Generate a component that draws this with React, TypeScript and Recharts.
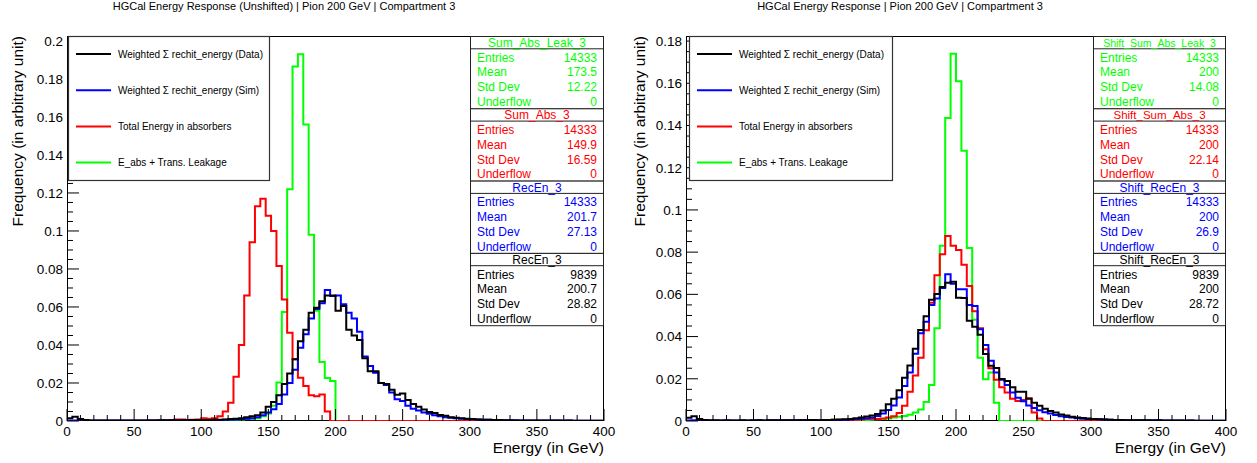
import React from "react";
import { ComposedChart, Line, XAxis, YAxis } from "recharts";

// 100 bins of 4 GeV over 0-400 GeV, normalised to unit area
const BIN_WIDTH = 4;

// --- unshifted pad ---
const recEnData = [
  0.0015, 0.0022, 0.0010, 0.0005, 0.0003, 0.0003, 0.0002, 0.0003, 0.0002, 0.0002,
  0.0003, 0.0002, 0.0003, 0.0003, 0.0002, 0.0003, 0.0003, 0.0004, 0.0003, 0.0004,
  0.0003, 0.0004, 0.0004, 0.0005, 0.0004, 0.0005, 0.0005, 0.0006, 0.0006, 0.0008,
  0.0010, 0.0012, 0.0015, 0.0020, 0.0025, 0.0030, 0.0045, 0.0075, 0.0100, 0.0135,
  0.0195, 0.0250, 0.0325, 0.0420, 0.0480, 0.0570, 0.0596, 0.0630, 0.0660, 0.0660,
  0.0580, 0.0605, 0.0480, 0.0450, 0.0426, 0.0330, 0.0262, 0.0262, 0.0200, 0.0195,
  0.0165, 0.0138, 0.0145, 0.0110, 0.0090, 0.0075, 0.0060, 0.0048, 0.0042, 0.0032,
  0.0027, 0.0020, 0.0017, 0.0014, 0.0012, 0.0010, 0.0008, 0.0007, 0.0006, 0.0005,
  0.0005, 0.0004, 0.0004, 0.0003, 0.0003, 0.0003, 0.0002, 0.0003, 0.0002, 0.0002,
  0.0002, 0.0002, 0.0001, 0.0002, 0.0001, 0.0001, 0.0001, 0.0001, 0.0001, 0.0001,
];

const recEnSim = [
  0.0002, 0.0003, 0.0002, 0.0002, 0.0002, 0.0002, 0.0002, 0.0002, 0.0002, 0.0002,
  0.0002, 0.0002, 0.0002, 0.0003, 0.0002, 0.0003, 0.0003, 0.0003, 0.0003, 0.0003,
  0.0003, 0.0003, 0.0004, 0.0003, 0.0004, 0.0004, 0.0004, 0.0005, 0.0005, 0.0006,
  0.0007, 0.0008, 0.0010, 0.0012, 0.0015, 0.0020, 0.0030, 0.0045, 0.0062, 0.0090,
  0.0140, 0.0200, 0.0270, 0.0386, 0.0456, 0.0540, 0.0590, 0.0620, 0.0690, 0.0658,
  0.0660, 0.0615, 0.0570, 0.0540, 0.0470, 0.0340, 0.0290, 0.0254, 0.0200, 0.0190,
  0.0150, 0.0114, 0.0105, 0.0080, 0.0065, 0.0055, 0.0045, 0.0038, 0.0030, 0.0025,
  0.0020, 0.0017, 0.0014, 0.0012, 0.0010, 0.0009, 0.0008, 0.0007, 0.0006, 0.0005,
  0.0005, 0.0004, 0.0004, 0.0004, 0.0003, 0.0003, 0.0003, 0.0003, 0.0002, 0.0002,
  0.0002, 0.0002, 0.0002, 0.0002, 0.0001, 0.0001, 0.0001, 0.0001, 0.0001, 0.0001,
];

const sumAbs = [
  0, 0, 0, 0, 0, 0, 0, 0, 0, 0,
  0, 0, 0, 0, 0, 0.0002, 0.0002, 0.0003, 0.0005, 0.0004,
  0.0008, 0.0008, 0.0005, 0.0006, 0.0008, 0.0015, 0.0012, 0.0015, 0.0025, 0.0050,
  0.0096, 0.0233, 0.0400, 0.0660, 0.0940, 0.1130, 0.1170, 0.1080, 0.1000, 0.0816,
  0.0640, 0.0465, 0.0325, 0.0228, 0.0184, 0.0135, 0.0130, 0.0140, 0.0050, 0,
  0, 0, 0, 0, 0, 0, 0, 0, 0, 0,
  0, 0, 0, 0, 0, 0, 0, 0, 0, 0,
  0, 0, 0, 0, 0, 0, 0, 0, 0, 0,
  0, 0, 0, 0, 0, 0, 0, 0, 0, 0,
  0, 0, 0, 0, 0, 0, 0, 0, 0, 0,
];

const sumAbsLeak = [
  0, 0, 0, 0, 0, 0, 0, 0, 0, 0,
  0, 0, 0, 0, 0, 0, 0, 0, 0, 0,
  0, 0, 0, 0, 0, 0.0002, 0.0002, 0.0003, 0.0003, 0.0004,
  0.0005, 0.0006, 0.0008, 0.0010, 0.0012, 0.0015, 0.0025, 0.0040, 0.0080, 0.0202,
  0.0574, 0.1220, 0.1865, 0.1930, 0.1560, 0.0980, 0.0580, 0.0310, 0.0226, 0.0210,
  0, 0, 0, 0, 0, 0, 0, 0, 0, 0,
  0, 0, 0, 0, 0, 0, 0, 0, 0, 0,
  0, 0, 0, 0, 0, 0, 0, 0, 0, 0,
  0, 0, 0, 0, 0, 0, 0, 0, 0, 0,
  0, 0, 0, 0, 0, 0, 0, 0, 0, 0,
];

// --- pad shifted to a 200 GeV mean ---
const shiftRecEnData = [
  0.0015, 0.0022, 0.0010, 0.0005, 0.0003, 0.0003, 0.0002, 0.0003, 0.0002, 0.0002,
  0.0003, 0.0002, 0.0003, 0.0003, 0.0002, 0.0003, 0.0003, 0.0004, 0.0003, 0.0004,
  0.0003, 0.0004, 0.0004, 0.0005, 0.0004, 0.0005, 0.0005, 0.0006, 0.0007, 0.0008,
  0.0010, 0.0013, 0.0016, 0.0021, 0.0026, 0.0033, 0.0050, 0.0079, 0.0106, 0.0146,
  0.0205, 0.0263, 0.0342, 0.0431, 0.0496, 0.0575, 0.0602, 0.0635, 0.0655, 0.0660,
  0.0584, 0.0583, 0.0475, 0.0446, 0.0409, 0.0318, 0.0262, 0.0251, 0.0199, 0.0190,
  0.0160, 0.0139, 0.0139, 0.0106, 0.0087, 0.0072, 0.0058, 0.0047, 0.0040, 0.0031,
  0.0026, 0.0020, 0.0016, 0.0014, 0.0012, 0.0010, 0.0008, 0.0007, 0.0006, 0.0005,
  0.0005, 0.0004, 0.0004, 0.0003, 0.0003, 0.0003, 0.0002, 0.0003, 0.0002, 0.0002,
  0.0002, 0.0002, 0.0001, 0.0002, 0.0001, 0.0001, 0.0001, 0.0001, 0.0001, 0.0001,
];

const shiftRecEnSim = [
  0.0002, 0.0003, 0.0002, 0.0002, 0.0002, 0.0002, 0.0002, 0.0002, 0.0002, 0.0002,
  0.0002, 0.0002, 0.0002, 0.0003, 0.0002, 0.0003, 0.0003, 0.0003, 0.0003, 0.0003,
  0.0003, 0.0003, 0.0004, 0.0003, 0.0004, 0.0004, 0.0004, 0.0005, 0.0005, 0.0006,
  0.0007, 0.0009, 0.0011, 0.0013, 0.0017, 0.0024, 0.0036, 0.0052, 0.0074, 0.0111,
  0.0166, 0.0230, 0.0319, 0.0416, 0.0470, 0.0550, 0.0580, 0.0630, 0.0695, 0.0650,
  0.0624, 0.0624, 0.0550, 0.0545, 0.0435, 0.0360, 0.0285, 0.0230, 0.0196, 0.0170,
  0.0135, 0.0110, 0.0094, 0.0074, 0.0061, 0.0051, 0.0042, 0.0035, 0.0028, 0.0023,
  0.0019, 0.0016, 0.0013, 0.0011, 0.0010, 0.0009, 0.0008, 0.0007, 0.0006, 0.0005,
  0.0005, 0.0004, 0.0004, 0.0004, 0.0003, 0.0003, 0.0003, 0.0003, 0.0002, 0.0002,
  0.0002, 0.0002, 0.0002, 0.0002, 0.0001, 0.0001, 0.0001, 0.0001, 0.0001, 0.0001,
];

const shiftSumAbs = [
  0, 0, 0, 0, 0, 0, 0, 0, 0, 0,
  0, 0, 0, 0, 0, 0, 0, 0, 0, 0,
  0.0002, 0.0002, 0.0003, 0.0003, 0.0003, 0.0004, 0.0005, 0.0006, 0.0006, 0.0005,
  0.0005, 0.0006, 0.0007, 0.0010, 0.0011, 0.0010, 0.0012, 0.0016, 0.0022, 0.0038,
  0.0072, 0.0139, 0.0215, 0.0300, 0.0430, 0.0560, 0.0690, 0.0790, 0.0877, 0.0830,
  0.0810, 0.0740, 0.0640, 0.0520, 0.0440, 0.0340, 0.0250, 0.0195, 0.0160, 0.0135,
  0.0105, 0.0095, 0.0100, 0.0108, 0.0040, 0.0012, 0, 0, 0, 0,
  0, 0, 0, 0, 0, 0, 0, 0, 0, 0,
  0, 0, 0, 0, 0, 0, 0, 0, 0, 0,
  0, 0, 0, 0, 0, 0, 0, 0, 0, 0,
];

const shiftSumAbsLeak = [
  0, 0, 0, 0, 0, 0, 0, 0, 0, 0,
  0, 0, 0, 0, 0, 0, 0, 0, 0, 0,
  0, 0, 0, 0, 0, 0, 0, 0, 0, 0,
  0.0003, 0.0003, 0.0004, 0.0005, 0.0006, 0.0008, 0.0010, 0.0012, 0.0016, 0.0020,
  0.0024, 0.0030, 0.0040, 0.0055, 0.0090, 0.0170, 0.0440, 0.0830, 0.1435, 0.1740,
  0.1610, 0.1280, 0.0820, 0.0480, 0.0300, 0.0198, 0.0230, 0.0087, 0, 0,
  0, 0, 0, 0, 0, 0, 0, 0, 0, 0,
  0, 0, 0, 0, 0, 0, 0, 0, 0, 0,
  0, 0, 0, 0, 0, 0, 0, 0, 0, 0,
  0, 0, 0, 0, 0, 0, 0, 0, 0, 0,
];

const xMajorTicks = [0, 50, 100, 150, 200, 250, 300, 350, 400];
const leftYMajor = [0, 0.02, 0.04, 0.06, 0.08, 0.1, 0.12, 0.14, 0.16, 0.18, 0.2];
const rightYMajor = [0, 0.02, 0.04, 0.06, 0.08, 0.1, 0.12, 0.14, 0.16, 0.18];

const legendLabels = [
  "Weighted \u03A3 rechit_energy (Data)",
  "Weighted \u03A3 rechit_energy (Sim)",
  "Total Energy in absorbers",
  "E_abs + Trans. Leakage",
];
const legendColors = ["#000000", "#0000ff", "#ff0000", "#00ff00"];

const statRows = ["Entries", "Mean", "Std Dev", "Underflow"];

type StatBox = { name: string; color: string; values: string[]; size?: number };

const leftStats: StatBox[] = [
  { name: "Sum_Abs_Leak_3", color: "#00ff00", values: ["14333", "173.5", "12.22", "0"] },
  { name: "Sum_Abs_3", color: "#ff0000", values: ["14333", "149.9", "16.59", "0"] },
  { name: "RecEn_3", color: "#0000ff", values: ["14333", "201.7", "27.13", "0"] },
  { name: "RecEn_3", color: "#000000", values: ["9839", "200.7", "28.82", "0"] },
];

const rightStats: StatBox[] = [
  { name: "Shift_Sum_Abs_Leak_3", color: "#00ff00", values: ["14333", "200", "14.08", "0"], size: 10.5 },
  { name: "Shift_Sum_Abs_3", color: "#ff0000", values: ["14333", "200", "22.14", "0"], size: 11.5 },
  { name: "Shift_RecEn_3", color: "#0000ff", values: ["14333", "200", "26.9", "0"] },
  { name: "Shift_RecEn_3", color: "#000000", values: ["9839", "200", "28.72", "0"] },
];

const FONT = '"Liberation Sans", Arial, Helvetica, sans-serif';
const PAGE_W = 1257;
const PAGE_H = 463;
const PLOT_TOP = 36;
const PLOT_BOTTOM = 421;
const Y_AXIS_W = 40;
const X_AXIS_H = 30;

type Row = { e: number; data: number; sim: number; abs: number; leak: number };

function buildRows(data: number[], sim: number[], abs: number[], leak: number[]): Row[] {
  const rows = data.map((_, i) => ({ e: i * BIN_WIDTH, data: data[i], sim: sim[i], abs: abs[i], leak: leak[i] }));
  // closing edge so the last bin is drawn up to 400
  const n = data.length - 1;
  rows.push({ e: data.length * BIN_WIDTH, data: data[n], sim: sim[n], abs: abs[n], leak: leak[n] });
  return rows;
}

function withMinors(majors: number[], sub: number, max: number) {
  const step = majors[1] - majors[0];
  const out: number[] = [];
  majors.forEach((m) => {
    for (let j = 0; j < sub; j++) {
      const v = +(m + (j * step) / sub).toFixed(4);
      if (v <= max) out.push(v);
    }
  });
  return out;
}

const xAllTicks = withMinors(xMajorTicks, 5, 400);

// ticks point into the frame, ROOT style
function XTick(props: any) {
  const { x, y, payload } = props;
  const v = payload.value as number;
  const major = v % 50 === 0;
  return (
    <g>
      <line x1={x} x2={x} y1={y} y2={y - (major ? 12 : 6)} stroke="#000" strokeWidth={1} />
      {major && (
        <text x={x} y={y + 15} textAnchor="middle" fontSize={13.5} fontFamily={FONT} fill="#000">
          {v}
        </text>
      )}
    </g>
  );
}

function YTick(props: any) {
  const { x, y, payload } = props;
  const v = payload.value as number;
  const major = Math.abs(v / 0.02 - Math.round(v / 0.02)) < 1e-6;
  return (
    <g>
      <line x1={x} x2={x + (major ? 12 : 6)} y1={y} y2={y} stroke="#000" strokeWidth={1} />
      {major && (
        <text x={x - 4} y={y + 4.8} textAnchor="end" fontSize={13.5} fontFamily={FONT} fill="#000">
          {String(+v.toFixed(2))}
        </text>
      )}
    </g>
  );
}

type PadProps = {
  padLeft: number;
  padWidth: number;
  plotLeft: number;
  plotRight: number;
  yMax: number;
  yMajor: number[];
  rows: Row[];
};

function Pad({ padLeft, padWidth, plotLeft, plotRight, yMax, yMajor, rows }: PadProps) {
  const yTicks = withMinors(yMajor, 4, yMax);
  return (
    <div style={{ position: "absolute", left: padLeft, top: 0 }}>
      <ComposedChart
        width={padWidth}
        height={PAGE_H}
        data={rows}
        margin={{
          top: PLOT_TOP,
          bottom: PAGE_H - PLOT_BOTTOM - X_AXIS_H,
          left: plotLeft - padLeft - Y_AXIS_W,
          right: padLeft + padWidth - plotRight,
        }}
      >
        <XAxis
          dataKey="e"
          type="number"
          domain={[0, 400]}
          ticks={xAllTicks}
          interval={0}
          height={X_AXIS_H}
          tickSize={0}
          tickMargin={0}
          tickLine={false}
          axisLine={false}
          tick={(p: any) => <XTick {...p} />}
        />
        <YAxis
          type="number"
          domain={[0, yMax]}
          ticks={yTicks}
          interval={0}
          width={Y_AXIS_W}
          tickSize={0}
          tickMargin={0}
          tickLine={false}
          axisLine={false}
          allowDataOverflow
          tick={(p: any) => <YTick {...p} />}
        />
        <Line type="stepAfter" dataKey="leak" stroke="#00ff00" strokeWidth={2} dot={false} isAnimationActive={false} />
        <Line type="stepAfter" dataKey="abs" stroke="#ff0000" strokeWidth={2} dot={false} isAnimationActive={false} />
        <Line type="stepAfter" dataKey="sim" stroke="#0000ff" strokeWidth={2} dot={false} isAnimationActive={false} />
        <Line type="stepAfter" dataKey="data" stroke="#000000" strokeWidth={2} dot={false} isAnimationActive={false} />
      </ComposedChart>
    </div>
  );
}

function Legend({ left, width }: { left: number; width: number }) {
  return (
    <g fontFamily={FONT}>
      <rect x={left + 0.5} y={PLOT_TOP + 0.5} width={width} height={144} fill="#fff" stroke="#333" strokeWidth={1.2} />
      {legendLabels.map((label, i) => {
        const y = 54 + i * 36.2;
        return (
          <g key={label}>
            <line x1={left + 8} x2={left + 43} y1={y} y2={y} stroke={legendColors[i]} strokeWidth={2} />
            <text x={left + 50} y={y + 3.6} fontSize={10} fill="#000">
              {label}
            </text>
          </g>
        );
      })}
    </g>
  );
}

function Stats({ left, right, boxes }: { left: number; right: number; boxes: StatBox[] }) {
  const w = right - left;
  const h = 72.3;
  return (
    <g fontFamily={FONT}>
      {boxes.map((b, k) => {
        const top = PLOT_TOP + k * h;
        return (
          <g key={k}>
            <rect x={left + 0.5} y={top + 0.5} width={w - 1} height={h} fill="#fff" stroke="#222" strokeWidth={1} />
            <line x1={left} x2={right} y1={top + 12.8} y2={top + 12.8} stroke="#222" strokeWidth={1} />
            <text x={left + w / 2} y={top + 11} textAnchor="middle" fontSize={b.size ?? 12} fill={b.color}>
              {b.name}
            </text>
            {statRows.map((r, j) => {
              const base = top + 25.6 + j * 14.8;
              return (
                <g key={r}>
                  <text x={left + 7} y={base} fontSize={12} fill={b.color}>
                    {r}
                  </text>
                  <text x={right - 7} y={base} textAnchor="end" fontSize={12} fill={b.color}>
                    {b.values[j]}
                  </text>
                </g>
              );
            })}
          </g>
        );
      })}
    </g>
  );
}

export default function App() {
  const leftRows = buildRows(recEnData, recEnSim, sumAbs, sumAbsLeak);
  const rightRows = buildRows(shiftRecEnData, shiftRecEnSim, shiftSumAbs, shiftSumAbsLeak);

  const L = { plotLeft: 67, plotRight: 604 };
  const R = { plotLeft: 686, plotRight: 1226 };

  return (
    <div style={{ position: "absolute", left: 0, top: 0, width: PAGE_W, height: PAGE_H, background: "#fff", overflow: "hidden" }}>
      {/* frames under the histograms */}
      <svg width={PAGE_W} height={PAGE_H} style={{ position: "absolute", left: 0, top: 0 }}>
        {[L, R].map((p, i) => (
          <rect
            key={i}
            x={p.plotLeft + 0.5}
            y={PLOT_TOP + 0.5}
            width={p.plotRight - p.plotLeft - 1}
            height={PLOT_BOTTOM - PLOT_TOP - 1}
            fill="none"
            stroke="#000"
            strokeWidth={1}
          />
        ))}
      </svg>

      <Pad padLeft={0} padWidth={628} {...L} yMax={0.2026} yMajor={leftYMajor} rows={leftRows} />
      <Pad padLeft={628} padWidth={629} {...R} yMax={0.1824} yMajor={rightYMajor} rows={rightRows} />

      <svg width={PAGE_W} height={PAGE_H} style={{ position: "absolute", left: 0, top: 0, pointerEvents: "none" }}>
        <g fontFamily={FONT} fill="#000">
          <text x={284} y={10} textAnchor="middle" fontSize={11}>
            HGCal Energy Response (Unshifted) | Pion 200 GeV | Compartment 3
          </text>
          <text x={900} y={10} textAnchor="middle" fontSize={11}>
            HGCal Energy Response | Pion 200 GeV | Compartment 3
          </text>
          <text transform={`translate(23, ${PLOT_TOP}) rotate(-90)`} textAnchor="end" fontSize={15.5}>
            Frequency (in arbitrary unit)
          </text>
          <text transform={`translate(645, ${PLOT_TOP}) rotate(-90)`} textAnchor="end" fontSize={15.5}>
            Frequency (in arbitrary unit)
          </text>
          <text x={L.plotRight} y={453} textAnchor="end" fontSize={15.5}>
            Energy (in GeV)
          </text>
          <text x={R.plotRight} y={453} textAnchor="end" fontSize={15.5}>
            Energy (in GeV)
          </text>
        </g>
        <Legend left={68} width={201} />
        <Legend left={689} width={203} />
        <Stats left={470} right={L.plotRight} boxes={leftStats} />
        <Stats left={1093} right={R.plotRight} boxes={rightStats} />
      </svg>
    </div>
  );
}
